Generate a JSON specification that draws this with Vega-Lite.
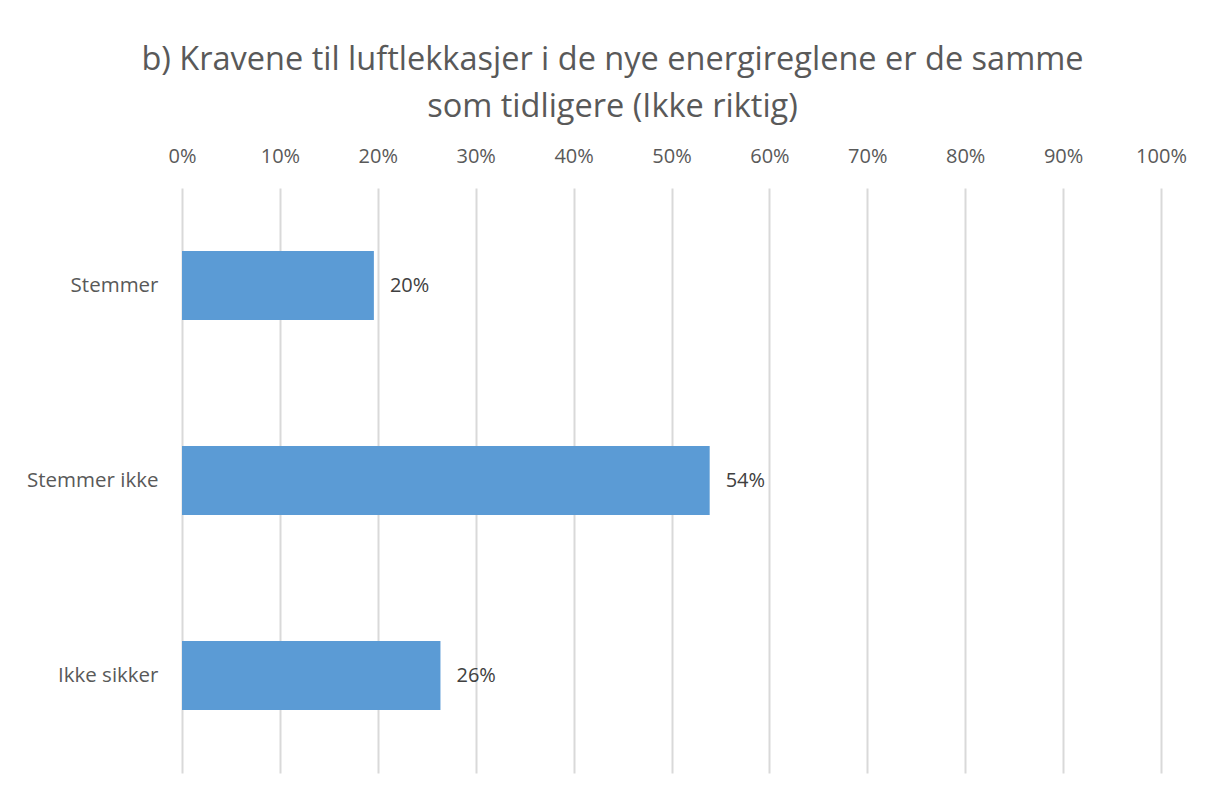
{
  "$schema": "https://vega.github.io/schema/vega-lite/v6.json",
  "autosize": {"type": "none"},
  "width": 979,
  "height": 585,
  "padding": {"left": 182, "top": 188, "right": 45, "bottom": 18},
  "background": "white",
  "config": {"view": {"stroke": null}, "font": "Open Sans"},
  "title": {
    "text": ["b) Kravene til luftlekkasjer i de nye energireglene er de samme", "som tidligere (Ikke riktig)"],
    "anchor": "middle",
    "frame": "group",
    "dx": -59,
    "fontSize": 32.5,
    "fontWeight": "normal",
    "font": "Open Sans",
    "color": "#595959",
    "lineHeight": 47,
    "baseline": "alphabetic",
    "offset": -3
  },
  "data": {
    "values": [
      {"svar": "Stemmer", "andel": 0.196},
      {"svar": "Stemmer ikke", "andel": 0.539},
      {"svar": "Ikke sikker", "andel": 0.264}
    ]
  },
  "encoding": {
    "y": {
      "field": "svar",
      "type": "nominal",
      "sort": null,
      "scale": {"paddingInner": 0.646, "paddingOuter": 0.323},
      "axis": {
        "title": null,
        "ticks": false,
        "domain": false,
        "labelFontSize": 20.5,
        "labelColor": "#595959",
        "labelPadding": 24,
        "labelFont": "Open Sans"
      }
    },
    "x": {
      "field": "andel",
      "type": "quantitative",
      "scale": {"domain": [0, 1], "nice": false},
      "axis": {
        "orient": "top",
        "format": ".0%",
        "values": [0, 0.1, 0.2, 0.3, 0.4, 0.5, 0.6, 0.7, 0.8, 0.9, 1],
        "title": null,
        "ticks": false,
        "domain": false,
        "grid": true,
        "gridColor": "#d9d9d9",
        "gridWidth": 2,
        "labelFontSize": 20,
        "labelColor": "#595959",
        "labelPadding": 22,
        "labelFont": "Open Sans",
        "labelFlush": false
      }
    }
  },
  "layer": [
    {"mark": {"type": "bar", "color": "#5b9bd5"}},
    {
      "mark": {"type": "text", "align": "left", "dx": 16, "fontSize": 20, "color": "#404040", "font": "Open Sans"},
      "encoding": {"text": {"field": "andel", "type": "quantitative", "format": ".0%"}}
    }
  ]
}
